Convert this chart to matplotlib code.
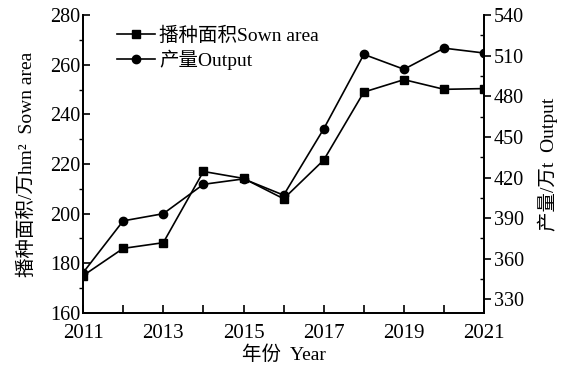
import matplotlib

matplotlib.use("Agg")

import matplotlib.pyplot as plt
from matplotlib.lines import Line2D
from matplotlib.ticker import MultipleLocator

plt.rcParams["font.family"] = ["Liberation Serif", "Noto Sans CJK SC"]
plt.rcParams["axes.unicode_minus"] = False

years = [2011, 2012, 2013, 2014, 2015, 2016, 2017, 2018, 2019, 2020, 2021]
sown_area = [175.0, 186.0, 188.3, 217.0, 214.2, 206.0, 221.6, 249.0, 254.0, 250.1, 250.4]
output = [349.7, 388.0, 393.3, 415.0, 419.0, 407.0, 456.0, 511.0, 500.0, 515.6, 512.0]
year_ticks = [2011, 2013, 2015, 2017, 2019, 2021]

fig, ax = plt.subplots(figsize=(5.65, 3.69), dpi=100)
fig.subplots_adjust(left=0.147, right=0.857, bottom=0.152, top=0.959)
ax2 = ax.twinx()

ax.plot(years, sown_area, color="black", lw=1.2, marker="s", ms=5.5)
ax2.plot(years, output, color="black", lw=1.2, marker="o", ms=6)

ax.set_xlim(2011, 2021)
ax.set_ylim(160, 280)
ax2.set_ylim(320, 540)
ax.set_xticks(year_ticks)
ax.set_xticks(years, minor=True)
ax.yaxis.set_major_locator(MultipleLocator(20))
ax.yaxis.set_minor_locator(MultipleLocator(10))
ax2.set_yticks(range(330, 541, 30))
ax2.yaxis.set_minor_locator(MultipleLocator(15))

ax.tick_params(axis="x", which="major", direction="in", length=6, width=1.2,
               labelsize=15, pad=8)
ax.tick_params(axis="x", which="minor", direction="in", length=6, width=1.2)
ax.tick_params(axis="y", which="major", direction="in", length=5, width=1.2,
               labelsize=14.5, pad=2)
ax.tick_params(axis="y", which="minor", direction="out", length=3, width=1.0)
ax2.tick_params(axis="y", which="major", direction="out", length=5, width=1.2,
                labelsize=14.5, pad=2)
ax2.tick_params(axis="y", which="minor", direction="in", length=3, width=1.0)

for a in (ax, ax2):
    for s in a.spines.values():
        s.set_linewidth(1.3)
ax.spines["top"].set_visible(False)
ax2.spines["top"].set_visible(False)

ax.set_xlabel("年份  Year", fontsize=14, labelpad=2)
ax.set_ylabel("播种面积/万hm²  Sown area", fontsize=14, labelpad=10)
ax2.set_ylabel("产量/万t  Output", fontsize=14, rotation=90, labelpad=10)

handles = [
    Line2D([], [], color="black", lw=1.2, marker="s", ms=5.5),
    Line2D([], [], color="black", lw=1.2, marker="o", ms=6),
]
ax.legend(handles, ["播种面积Sown area", "产量Output"], loc="upper left",
          bbox_to_anchor=(0.04, 1.02), frameon=False, fontsize=14,
          handlelength=2.0, handletextpad=0.2, labelspacing=0.25)

fig.savefig("out.png", dpi=100)
